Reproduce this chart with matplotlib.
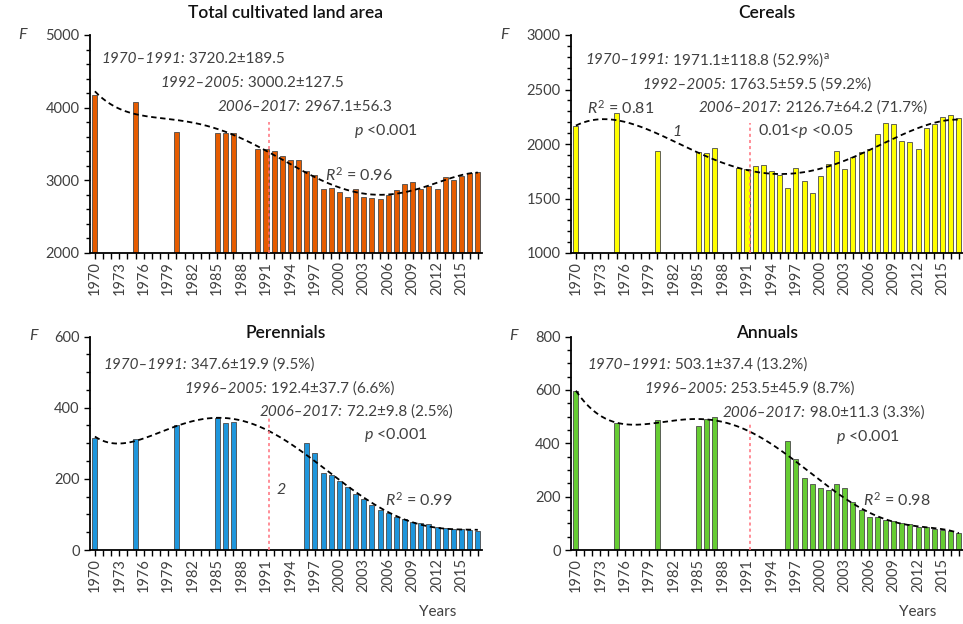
# F values by year: total cultivated land and its three crop groups
import numpy as np
import matplotlib
matplotlib.use("Agg")
import matplotlib.pyplot as plt
from matplotlib.ticker import MultipleLocator

plt.rcParams["font.family"] = "Lato"
plt.rcParams["mathtext.fontset"] = "custom"
plt.rcParams["mathtext.rm"] = "Lato"
plt.rcParams["mathtext.it"] = "Lato:italic"

# data
years_top = [1970, 1975, 1980, 1985, 1986, 1987] + list(range(1990, 2018))
total = [4180, 4080, 3665, 3645, 3655, 3655,
         3430, 3430, 3410, 3340, 3285, 3275, 3130, 3080, 2885, 2890,
         2845, 2765, 2875, 2765, 2755, 2745, 2800, 2870, 2950, 2975,
         2885, 2920, 2885, 3045, 3005, 3060, 3105, 3110]
cereals = [2165, 2280, 1935, 1925, 1915, 1965,
           1780, 1775, 1795, 1810, 1750, 1720, 1600, 1780, 1665, 1550,
           1710, 1820, 1940, 1770, 1880, 1925, 1955, 2095, 2195, 2185,
           2030, 2020, 1950, 2145, 2180, 2245, 2265, 2235]

years_bottom = [1970, 1975, 1980, 1985, 1986, 1987] + list(range(1996, 2018))
perennials = [316, 313, 352, 372, 357, 359,
              300, 272, 217, 210, 193, 176, 158, 143, 127, 112,
              103, 93, 86, 78, 75, 73, 66, 63, 60, 58, 56, 52]
annuals = [597, 475, 487, 464, 490, 500,
           407, 341, 268, 248, 234, 226, 248, 233, 181, 150,
           125, 122, 111, 108, 103, 96, 88, 86, 78, 75, 73, 65]

W, H = 963, 624
fig = plt.figure(figsize=(W / 100, H / 100), dpi=100)

def px(x, y):
    return x / W, 1 - y / H

grey = "#404040"

def panel(rect, years, vals, color, title, ylim, major, minor, deg, red_top, title_y, f_x):
    ax = fig.add_axes([rect[0] / W, 1 - rect[3] / H, (rect[2] - rect[0]) / W, (rect[3] - rect[1]) / H])
    ax.bar(years, vals, width=0.62, color=color, edgecolor="#4a4a4a", linewidth=0.6, zorder=2)
    fit = np.polynomial.Polynomial.fit(years, vals, deg)
    xs = np.linspace(1970, 2017, 300)
    ax.plot(xs, fit(xs), color="black", ls=(0, (3, 2)), lw=1.3, zorder=3)
    ax.plot([1991.4, 1991.4], [ylim[0], red_top], color="#ff6f7a", ls=(0, (2, 2)), lw=1.1, zorder=3)
    ax.set_xlim(1969.4, 2017.45)
    ax.set_ylim(*ylim)
    ax.set_xticks(range(1970, 2018))
    ax.set_xticklabels([str(y) if (y - 1970) % 3 == 0 else "" for y in range(1970, 2018)],
                       rotation=90, fontsize=10.5, color=grey)
    ax.yaxis.set_major_locator(MultipleLocator(major))
    ax.yaxis.set_minor_locator(MultipleLocator(minor))
    ax.tick_params(axis="y", labelsize=10.5, labelcolor=grey, length=4, width=1)
    ax.tick_params(axis="y", which="minor", length=3, width=1)
    ax.tick_params(axis="x", length=4, width=1, pad=2)
    for s in ["top", "right"]:
        ax.spines[s].set_visible(False)
    for s in ["left", "bottom"]:
        ax.spines[s].set_linewidth(1.3)
    fig.text(*px((rect[0] + rect[2]) / 2, title_y), title, ha="center", va="center",
             fontsize=12.5, fontweight="semibold", color="#111111")
    fig.text(*px(f_x, rect[1]), "F", style="italic", fontsize=11.5, color=grey,
             ha="left", va="center")
    return ax

def stat(ax, x, y, rng, rest):
    t = fig.text(*px(x, y), rng, style="italic", fontsize=11, color=grey, ha="left", va="center")
    ax.annotate(rest, xy=(1, 0.5), xycoords=t, ha="left", va="center", fontsize=11,
                color=grey, annotation_clip=False)

def note(x, y, s, ha="left", size=11.5):
    fig.text(*px(x, y), s, fontsize=size, color=grey, ha=ha, va="center")

ax1 = panel((90, 35, 481.5, 253), years_top, total, "#e65c00", "Total cultivated land area",
            (2000, 5000), 1000, 200, 5, 3800, 13, 18)
stat(ax1, 101, 59, "1970\u20131991:", " 3720.2\u00b1189.5")
stat(ax1, 160, 83, "1992\u20132005:", " 3000.2\u00b1127.5")
stat(ax1, 218, 107, "2006\u20132017:", " 2967.1\u00b156.3")
note(418, 131, r"$p$ <0.001", ha="right")
note(325, 175, r"$R^2$ = 0.96")

ax2 = panel((571, 35, 962.5, 253), years_top, cereals, "#ffff00", "Cereals",
            (1000, 3000), 500, 100, 4, 2195, 13, 500)
stat(ax2, 585, 60, "1970\u20131991:", r" 1971.1$\pm$118.8 (52.9%)$^\mathrm{a}$")
stat(ax2, 642, 85, "1992\u20132005:", " 1763.5\u00b159.5 (59.2%)")
stat(ax2, 699, 108, "2006\u20132017:", " 2126.7\u00b164.2 (71.7%)")
note(587, 108, r"$R^2$ = 0.81")
fig.text(*px(672, 132), "1", style="italic", fontsize=11.5, color=grey, ha="left", va="center")
note(758, 131, r"0.01<$p$ <0.05")

ax3 = panel((90, 336.5, 481.5, 550), years_bottom, perennials, "#1e96dc", "Perennials",
            (0, 600), 200, 50, 5, 371, 333, 29)
stat(ax3, 103, 365, "1970\u20131991:", " 347.6\u00b119.9 (9.5%)")
stat(ax3, 184, 389, "1996\u20132005:", " 192.4\u00b137.7 (6.6%)")
stat(ax3, 260, 412, "2006\u20132017:", " 72.2\u00b19.8 (2.5%)")
note(428, 435, r"$p$ <0.001", ha="right")
fig.text(*px(277, 490), "2", style="italic", fontsize=11.5, color=grey, ha="left", va="center")
note(385, 500, r"$R^2$ = 0.99")
note(438, 612, "Years", ha="center", size=11)

ax4 = panel((571, 336.5, 962.5, 550), years_bottom, annuals, "#66cc33", "Annuals",
            (0, 800), 200, 50, 6, 481, 333, 509)
stat(ax4, 587, 365, "1970\u20131991:", " 503.1\u00b137.4 (13.2%)")
stat(ax4, 644, 389, "1996\u20132005:", " 253.5\u00b145.9 (8.7%)")
stat(ax4, 723, 413, "2006\u20132017:", " 98.0\u00b111.3 (3.3%)")
note(900, 437, r"$p$ <0.001", ha="right")
note(863, 500, r"$R^2$ = 0.98")
note(918, 612, "Years", ha="center", size=11)

fig.savefig("out.png", dpi=100)
